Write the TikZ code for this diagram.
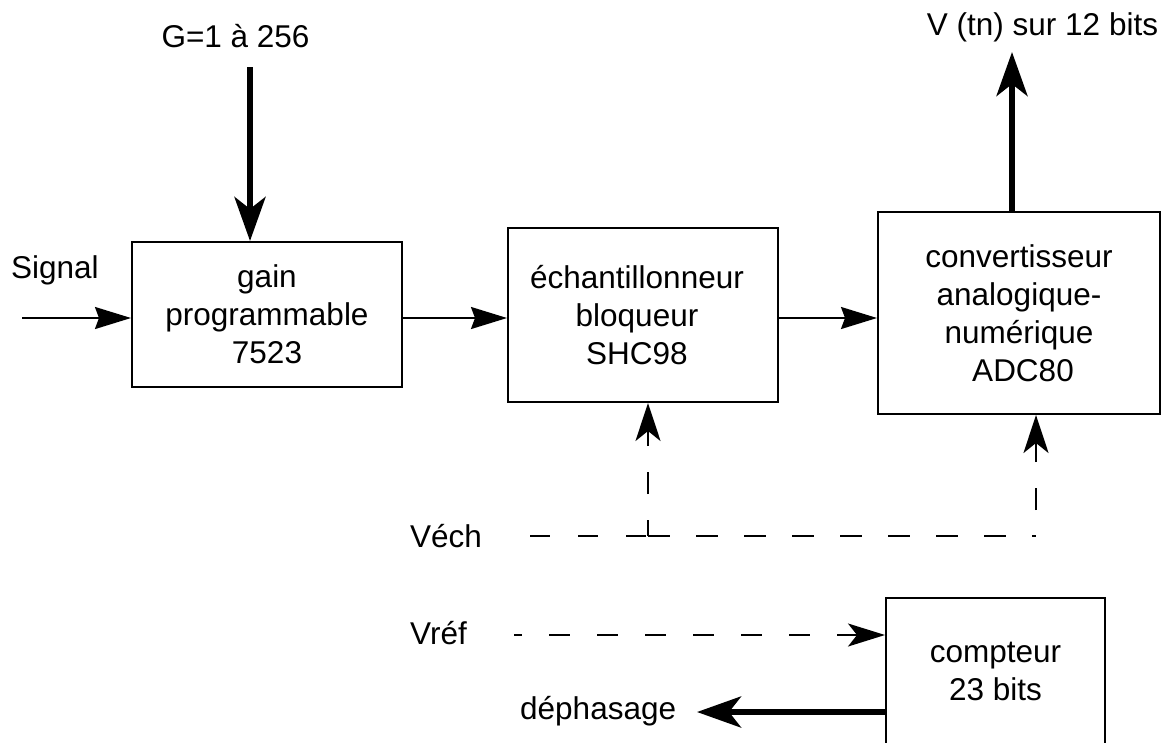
\documentclass[tikz,border=0pt]{standalone}
\usepackage{fontspec}
\setmainfont{Liberation Sans}
\usetikzlibrary{arrows.meta}
\begin{document}
\begin{tikzpicture}[x=1pt,y=-1pt,
  every node/.style={font=\fontsize{31.5}{38}\selectfont},
  blockbox/.style={draw,line width=2pt,rectangle,inner sep=0pt,align=center},
  lbl/.style={inner sep=0pt,anchor=base},
  thinarrow/.style={line width=2pt,-{Stealth[length=36pt,width=22pt,inset=4pt]}},
  thickarrow/.style={line width=6pt,-{Stealth[length=44pt,width=31pt,inset=12pt]}},
  dashline/.style={line width=2.5pt},
  dasharrow/.style={line width=2.5pt,-{Stealth[length=38pt,width=25pt,inset=10pt]}}]
\useasboundingbox (0,0) rectangle (1161,742);
\clip (0,0) rectangle (1161,742);
% blocks
\node[blockbox,minimum width=270pt,minimum height=145pt] (gain) at (267,314.5) {gain\\programmable\\7523};
\node[blockbox,minimum width=270pt,minimum height=174pt] (ech) at (643,315) {\hspace*{-12pt}échantillonneur\\\hspace*{-12pt}bloqueur\\\hspace*{-12pt}SHC98};
\node[blockbox,minimum width=282pt,minimum height=202pt] (conv) at (1019,313) {convertisseur\\analogique-\\numérique\\\hspace*{8pt}ADC80};
\node[blockbox,minimum width=219pt,minimum height=146pt] (comp) at (995.5,671) {compteur\\23 bits};
% labels
\node[lbl] (glbl) at (235.5,47) {G=1 à 256};
\node[lbl] (vlbl) at (1042.5,35) {V (tn) sur 12 bits};
\node[lbl,anchor=base west] (siglbl) at (11,278) {Signal};
\node[lbl,anchor=base west] (vechlbl) at (410,547) {Véch};
\node[lbl,anchor=base west] (vreflbl) at (410,644) {Vréf};
\node[lbl,anchor=base west] (deplbl) at (520,719) {déphasage};
% coordinates
\coordinate (sigin) at (22,318);
\coordinate (gtop) at (250,67);
\coordinate (vtop) at (1012,52);
\coordinate (vech0) at (530,536);
\coordinate (j1) at (648,536);
\coordinate (j2) at (1036,536);
\coordinate (vref0) at (514,635);
\coordinate (dep) at (697,712);
% solid connectors
\draw[thinarrow] (sigin) -- (sigin -| gain.west);
\draw[thinarrow] (gain.east |- sigin) -- (ech.west |- sigin);
\draw[thinarrow] (ech.east |- sigin) -- (conv.west |- sigin);
\draw[thickarrow] (gtop) -- (gtop |- gain.north);
\draw[thickarrow] (conv.north -| vtop) -- (vtop);
\draw[thickarrow] (comp.west |- dep) -- (dep);
% dashed connectors
\draw[dashline,dash pattern=on 20pt off 28pt] (vech0) -- (j1);
\draw[dashline,dash pattern=on 22pt off 26pt] (j1) -- (j2);
\draw[dasharrow,dash pattern=on 22pt off 26pt,dash phase=6pt] (j1) -- (j1 |- ech.south);
\draw[dasharrow,dash pattern=on 22pt off 26pt,dash phase=22pt] (j2) -- (j2 |- conv.south);
\draw[line width=2pt,dash pattern=on 21pt off 27pt,dash phase=13pt,-{Stealth[length=37pt,width=23pt,inset=9pt]}] (vref0) -- (vref0 -| comp.west);
\end{tikzpicture}
\end{document}
